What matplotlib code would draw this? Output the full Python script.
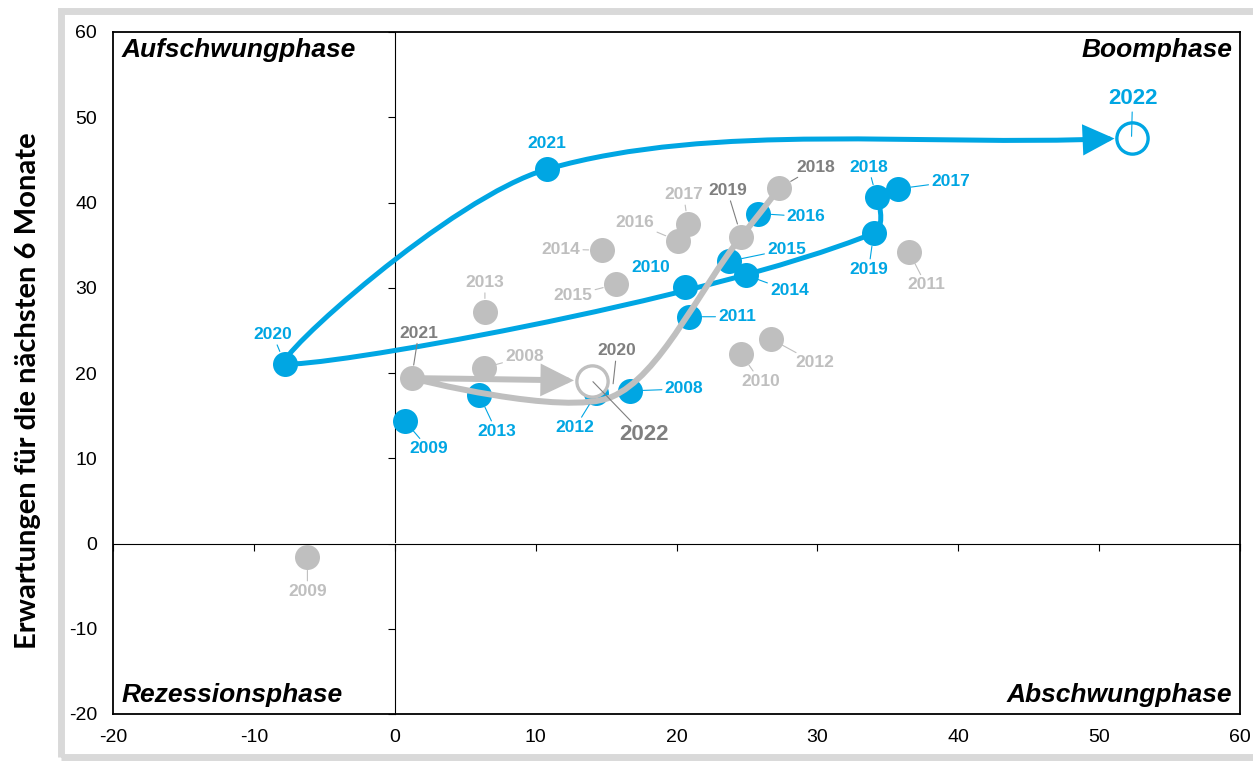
import matplotlib
matplotlib.use('Agg')
import matplotlib.pyplot as plt
import numpy as np
from matplotlib.path import Path
from matplotlib.patches import FancyArrowPatch, Rectangle

plt.rcParams['font.family'] = ['Liberation Sans', 'DejaVu Sans']
plt.rcParams['axes.unicode_minus'] = False

years = list(range(2008, 2023))
# blue series
blue_x = [16.7, 0.7, 20.6, 20.9, 14.3, 6.0, 24.9, 23.7, 25.8, 35.7, 34.2, 34.0, -7.8, 10.8, 52.3]
blue_y = [17.9, 14.4, 30.1, 26.6, 17.6, 17.4, 31.5, 33.1, 38.7, 41.6, 40.6, 36.4, 21.1, 43.9, 47.6]
# grey series
gray_x = [6.3, -6.2, 24.6, 36.5, 26.7, 6.4, 14.7, 15.7, 20.1, 20.8, 27.3, 24.6, 15.4, 1.2, 14.0]
gray_y = [20.6, -1.6, 22.2, 34.2, 24.0, 27.2, 34.4, 30.4, 35.5, 37.5, 41.7, 36.0, 17.2, 19.4, 19.1]
path_years = [2018, 2019, 2020, 2021, 2022]
gray_no_marker = [2020]

xticks = list(range(-20, 61, 10))
yticks = list(range(-20, 61, 10))
quadrants = ['Aufschwungphase', 'Boomphase', 'Rezessionsphase', 'Abschwungphase']
ylabel = 'Erwartungen für die nächsten 6 Monate'

BLUE = '#00A6E3'
GRAY = '#BFBFBF'
DGRAY = '#7F7F7F'

# label offsets in pixels (dx right, dy down) relative to the marker
blue_off = [(54, -2), (24, 28), (-34, -19), (48, 0), (-21, 34), (17, 36), (44, 16), (58, -12),
            (48, 3), (53, -7), (-8, -30), (-5, 36), (-12, -29), (0, -26), (1, -39)]
gray_off = [(41, -11), (0, 34), (19, 27), (17, 33), (44, 24), (0, -29), (-41, -1), (-43, 11),
            (-43, -18), (-4, -29), (36, -21), (-14, -46), (5, -46), (7, -45), (52, 54)]
blue_noleader = [2010, 2021]

W, H = 1253, 761
fig = plt.figure(figsize=(W / 100, H / 100), dpi=100)
ax = fig.add_axes([113 / W, 1 - 714 / H, 1127 / W, 682 / H])
ax.set_xlim(-20, 60)
ax.set_ylim(-20, 60)
ax.set_xticks(xticks)
ax.set_yticks(yticks)
ax.tick_params(length=0, labelsize=14)
ax.tick_params(axis='x', pad=10.5)
ax.tick_params(axis='y', pad=11.5)
for s in ax.spines.values():
    s.set_linewidth(1.3)

# zero axes with ticks
fx = (0 - (-20)) / 80
sy = ax.secondary_yaxis(fx)
sy.set_yticks(yticks)
sy.tick_params(axis='y', direction='out', length=5, width=0.8, labelleft=False, labelright=False)
for s in sy.spines.values():
    s.set_linewidth(0.8)
sx = ax.secondary_xaxis(fx)
sx.set_xticks(xticks)
sx.tick_params(axis='x', direction='out', length=5, width=0.8, labelbottom=False, labeltop=False)
for s in sx.spines.values():
    s.set_linewidth(0.8)


def unit(v):
    return v / np.hypot(*v)


def bez(c, t):
    p0, p1, p2, p3 = c
    return (1 - t) ** 3 * p0 + 3 * (1 - t) ** 2 * t * p1 + 3 * (1 - t) * t ** 2 * p2 + t ** 3 * p3


def split(c, t):
    p0, p1, p2, p3 = c
    a = p0 + (p1 - p0) * t
    b = p1 + (p2 - p1) * t
    cc = p2 + (p3 - p2) * t
    d = a + (b - a) * t
    e = b + (cc - b) * t
    return [p0, a, d, d + (e - d) * t]


def smooth_path(xs, ys, gap, k=0.33):
    P = ax.transData.transform(np.column_stack([xs, ys]))
    n = len(P)

    def sharp(i):
        if i in (0, n - 1):
            return 1.0
        a = np.hypot(*(P[i] - P[i - 1]))
        b = np.hypot(*(P[i + 1] - P[i]))
        return (np.hypot(*(P[i + 1] - P[i - 1])) / (a + b)) ** 2

    T = [None] * n
    for i in range(1, n - 1):
        T[i] = unit(unit(P[i + 1] - P[i - 1])
                    + 0.15 * (unit(P[i] - P[i - 1]) + unit(P[i + 1] - P[i])))
    # start tangent: chord blended with mirrored neighbour tangent, end: chord
    d = unit(P[1] - P[0])
    refl = 2 * np.dot(d, T[1]) * d - T[1]
    T[0] = unit(d + sharp(1) * 0.5 * (refl - d))
    T[-1] = unit(P[-1] - P[-2])

    segs = []
    for i in range(n - 1):
        L = np.hypot(*(P[i + 1] - P[i]))
        c1 = P[i] + T[i] * L * k * sharp(i)
        c2 = P[i + 1] - T[i + 1] * L * k * sharp(i + 1)
        segs.append([P[i], c1, c2, P[i + 1]])
    last = segs[-1]
    lo, hi = 0.0, 1.0
    for _ in range(40):
        mid = (lo + hi) / 2
        if np.hypot(*(bez(last, mid) - P[-1])) > gap:
            lo = mid
        else:
            hi = mid
    segs[-1] = split(last, lo)
    verts = [segs[0][0]]
    codes = [Path.MOVETO]
    for s in segs:
        verts += s[1:]
        codes += [Path.CURVE4] * 3
    return Path(ax.transData.inverted().transform(np.array(verts)), codes)


def draw_series(xs, ys, color, lw, z, gap, skip):
    filled = [(x, y) for yr, x, y in zip(years, xs, ys) if yr != 2022 and yr not in skip]
    fx_, fy_ = zip(*filled)
    ax.plot(fx_, fy_, 'o', ms=18, color=color, mec='none', zorder=z, clip_on=False)
    idx = [years.index(yr) for yr in path_years]
    p = smooth_path([xs[i] for i in idx], [ys[i] for i in idx], gap)
    arr = FancyArrowPatch(path=p, arrowstyle='-|>,head_length=0.45,head_width=0.22',
                          mutation_scale=38, lw=lw, color=color, zorder=z + 1,
                          capstyle='round', joinstyle='miter')
    ax.add_patch(arr)
    ax.plot(xs[-1], ys[-1], 'o', ms=22.5, mfc='white', mec=color, mew=2.4, zorder=7)


draw_series(blue_x, blue_y, BLUE, 3.6, 3, 17, [])
draw_series(gray_x, gray_y, GRAY, 4.3, 5, 18, gray_no_marker)


def label(yr, x, y, off, color, big, leader):
    dx, dy = off
    kw = dict(arrowstyle='-', color=color, lw=0.8, shrinkA=0,
              shrinkB=1 if big else 9.5) if leader else None
    ax.annotate(str(yr), (x, y), xytext=(dx * 0.72, -dy * 0.72), textcoords='offset points',
                ha='center', va='center', fontsize=16 if big else 12.5, fontweight='bold',
                color=color, arrowprops=kw, zorder=9)


for yr, x, y, off in zip(years, blue_x, blue_y, blue_off):
    label(yr, x, y, off, BLUE, yr == 2022, yr not in blue_noleader)
for yr, x, y, off in zip(years, gray_x, gray_y, gray_off):
    c = DGRAY if yr in path_years else GRAY
    label(yr, x, y, off, c, yr == 2022, True)

qkw = dict(transform=ax.transAxes, fontsize=19, fontweight='bold', fontstyle='italic', va='baseline')
ax.text(0.008, 0.963, quadrants[0], ha='left', **qkw)
ax.text(0.993, 0.963, quadrants[1], ha='right', **qkw)
ax.text(0.008, 0.017, quadrants[2], ha='left', **qkw)
ax.text(0.993, 0.017, quadrants[3], ha='right', **qkw)

fig.text(28 / W, 1 - 391 / H, ylabel, rotation=90, ha='center', va='center',
         fontsize=21, fontweight='bold', family=['Lato', 'DejaVu Sans'])

fig.patches.append(Rectangle((61 / W, 1 - 757 / H), 1200 / W, 746 / H, transform=fig.transFigure,
                             fill=False, edgecolor='#D9D9D9', lw=5, zorder=0))

fig.savefig('out.png', dpi=100)
